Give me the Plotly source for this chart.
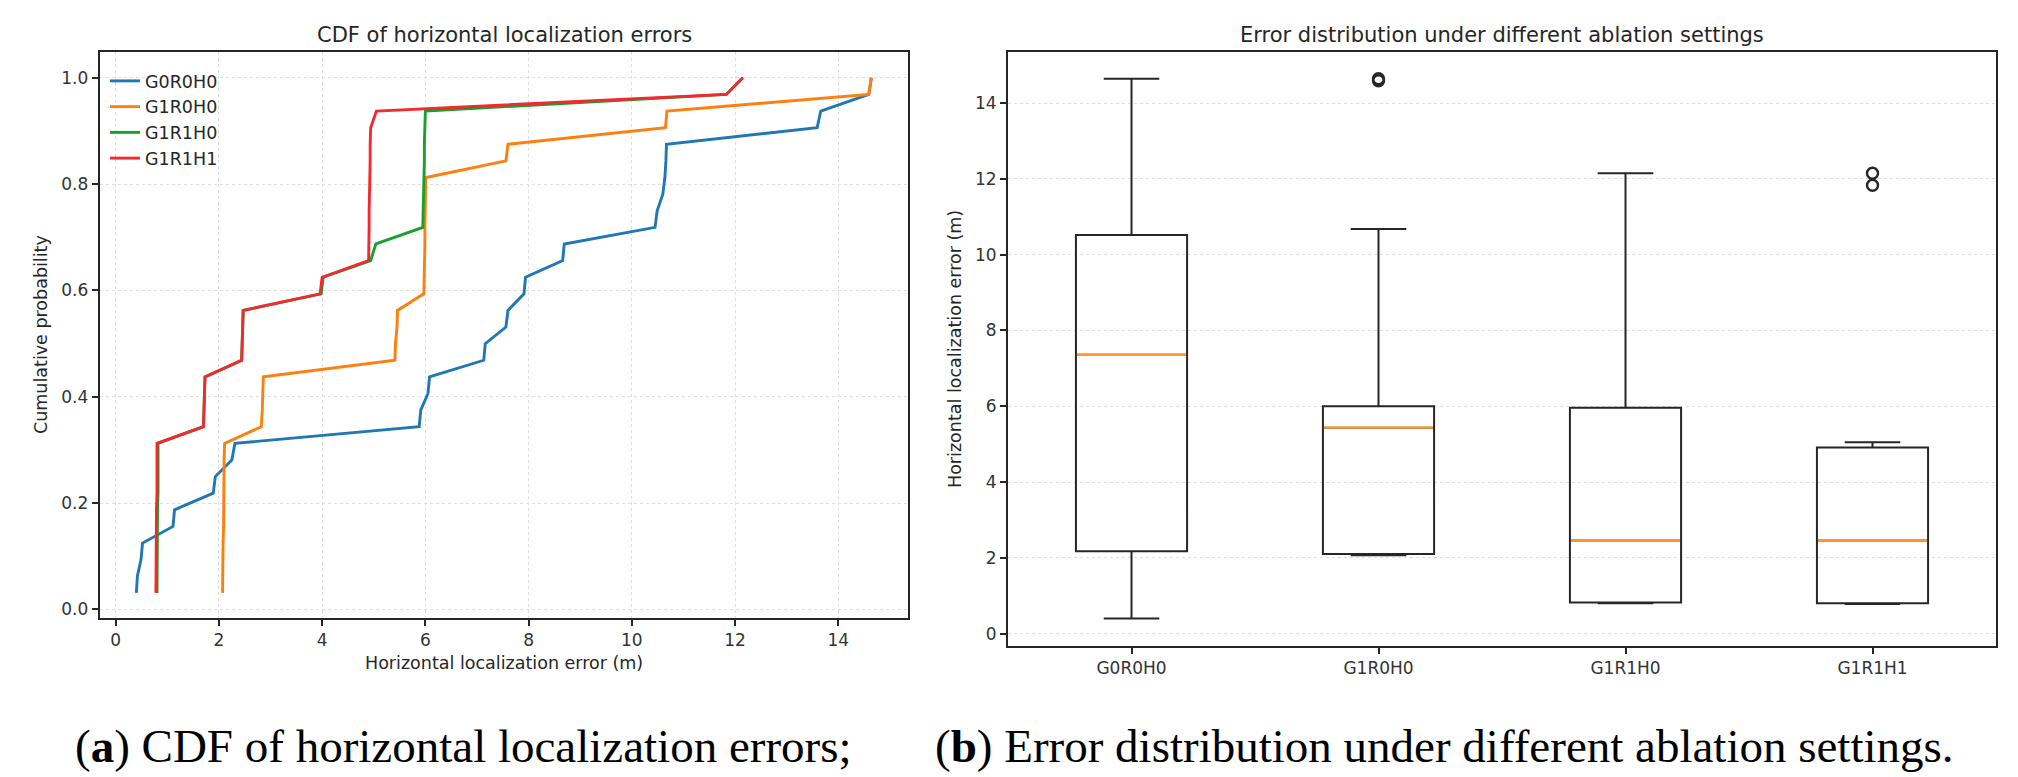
import numpy as np
import plotly.graph_objects as go

W, H = 2018, 777

settings = ["G0R0H0", "G1R0H0", "G1R1H0", "G1R1H1"]
colors = ["#1f77b4", "#ff7f0e", "#16a02c", "#f22a30"]

# horizontal localization errors (m), 32 test points per ablation setting
err_g0r0h0 = [0.40, 0.42, 0.49, 0.52, 1.11, 1.14, 1.89, 1.93, 2.25, 2.31,
              5.88, 5.91, 6.05, 6.08, 7.13, 7.16, 7.56, 7.60, 7.91, 7.94,
              8.66, 8.69, 10.45, 10.49, 10.60, 10.64, 10.66, 10.67, 13.59, 13.66,
              14.59, 14.64]
err_g1r0h0 = [2.07, 2.07, 2.08, 2.08, 2.09, 2.09, 2.09, 2.10, 2.10, 2.11,
              2.82, 2.84, 2.85, 2.86, 5.41, 5.42, 5.45, 5.46, 5.97, 5.98,
              5.98, 5.99, 5.99, 6.00, 6.00, 6.01, 7.56, 7.60, 10.65, 10.68,
              14.59, 14.64]
err_g1r1h0 = [0.80, 0.80, 0.81, 0.81, 0.81, 0.81, 0.82, 0.82, 0.82, 0.82,
              1.70, 1.71, 1.72, 1.73, 2.44, 2.45, 2.46, 2.47, 3.98, 4.02,
              4.94, 5.04, 5.95, 5.96, 5.97, 5.97, 5.98, 5.98, 5.99, 6.00,
              11.83, 12.15]
err_g1r1h1 = [0.78, 0.78, 0.79, 0.79, 0.79, 0.79, 0.80, 0.80, 0.80, 0.80,
              1.70, 1.71, 1.72, 1.73, 2.44, 2.45, 2.46, 2.47, 3.96, 4.00,
              4.90, 4.91, 4.91, 4.91, 4.92, 4.92, 4.93, 4.93, 4.94, 5.05,
              11.83, 12.15]
errors = [err_g0r0h0, err_g1r0h0, err_g1r1h0, err_g1r1h1]

FONT = "DejaVu Sans"
INK = "#262626"


def fx(px):
    return px / W


def fy(py):
    return 1 - py / H


fig = go.Figure()

# (a) CDF curves
for name, vals, c in zip(settings, errors, colors):
    xs = np.sort(vals)
    ys = np.arange(1, len(xs) + 1) / len(xs)
    fig.add_trace(go.Scatter(x=xs, y=ys, mode="lines", name=name,
                             line=dict(color=c, width=2.9),
                             xaxis="x", yaxis="y"))

# (b) box plot, matplotlib-style stats (whiskers at 1.5 IQR)
box_w = 0.45
for i, (name, vals) in enumerate(zip(settings, errors)):
    v = np.array(vals)
    q1, med, q3 = np.percentile(v, [25, 50, 75])
    iqr = q3 - q1
    lo = v[v >= q1 - 1.5 * iqr].min()
    hi = v[v <= q3 + 1.5 * iqr].max()
    out = v[(v < lo) | (v > hi)]
    pos = i + 1
    fig.add_trace(go.Box(x=[pos], q1=[q1], median=[med], q3=[q3],
                         lowerfence=[lo], upperfence=[hi], width=box_w,
                         whiskerwidth=0.5, fillcolor="rgba(0,0,0,0)",
                         line=dict(color=INK, width=2), boxpoints=False,
                         showlegend=False, xaxis="x2", yaxis="y2"))
    fig.add_trace(go.Scatter(x=[pos - box_w / 2 + 0.004, pos + box_w / 2 - 0.004],
                             y=[med, med], mode="lines",
                             line=dict(color="#ff9a30", width=2.4),
                             showlegend=False, xaxis="x2", yaxis="y2"))
    if len(out):
        fig.add_trace(go.Scatter(x=[pos] * len(out), y=out, mode="markers",
                                 marker=dict(symbol="circle-open", size=11,
                                             color=INK, line=dict(width=2.4)),
                                 showlegend=False, xaxis="x2", yaxis="y2"))

axis_common = dict(showline=True, mirror=True, linecolor=INK, linewidth=2,
                   ticks="outside", ticklen=6, tickwidth=1.5, tickcolor=INK,
                   tickfont=dict(family=FONT, size=17, color="#333333"),
                   zeroline=False, gridcolor="#dedede", griddash="dot",
                   gridwidth=1)

fig.update_layout(
    width=W, height=H,
    margin=dict(l=0, r=0, t=0, b=0),
    paper_bgcolor="white", plot_bgcolor="white",
    font=dict(family=FONT, color=INK),
    xaxis=dict(domain=[fx(91.7), fx(900)], range=[-0.31, 15.35],
               tickvals=list(range(0, 15, 2)), showgrid=True,
               anchor="y", **axis_common),
    yaxis=dict(domain=[fy(610), fy(44.3)], range=[-0.016, 1.048],
               tickvals=[0, 0.2, 0.4, 0.6, 0.8, 1.0], tickformat=".1f",
               showgrid=True, anchor="x", **axis_common),
    xaxis2=dict(domain=[fx(1000), fx(1988)], range=[0.5, 4.5],
                tickvals=[1, 2, 3, 4], ticktext=settings, showgrid=False,
                anchor="y2", **axis_common),
    yaxis2=dict(domain=[fy(637.7), fy(44.3)], range=[-0.32, 15.34],
                tickvals=list(range(0, 15, 2)), showgrid=True,
                anchor="x2", **axis_common),
    legend=dict(x=fx(97), y=fy(55), xanchor="left", yanchor="top",
                bgcolor="rgba(0,0,0,0)",
                font=dict(family=FONT, size=17.5, color=INK)),
    showlegend=True,
)

ann = [
    ("CDF of horizontal localization errors", 496, 26.7, 21, 0),
    ("Error distribution under different ablation settings", 1494, 26.7, 21, 0),
    ("Horizontal localization error (m)", 496, 655, 17.5, 0),
    ("Cumulative probability", 33, 327, 17.5, -90),
    ("Horizontal localization error (m)", 947, 341, 17.5, -90),
]
for text, x, y, size, ang in ann:
    fig.add_annotation(text=text, x=fx(x), y=fy(y), xref="paper", yref="paper",
                       xanchor="center", yanchor="middle", showarrow=False,
                       textangle=ang, font=dict(family=FONT, size=size, color=INK))

captions = [
    ("(<b>a</b>) CDF of horizontal localization errors;", 65),
    ("(<b>b</b>) Error distribution under different ablation settings.", 925),
]
for text, x in captions:
    fig.add_annotation(text=text, x=fx(x), y=fy(738), xref="paper", yref="paper",
                       xanchor="left", yanchor="middle", showarrow=False,
                       font=dict(family="Liberation Serif", size=47, color="black"))

fig.write_html("out.html")
